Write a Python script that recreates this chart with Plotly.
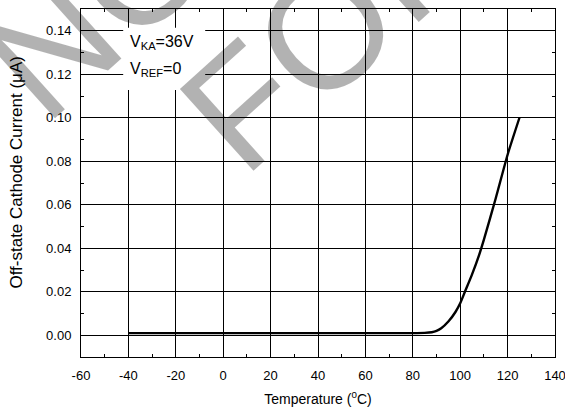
import plotly.graph_objects as go

# Data
temperature = [-40, 80, 85, 88, 90, 92, 95, 98, 100, 102, 105, 108, 110, 115, 120, 125]
current_uA = [0.001, 0.001, 0.0011, 0.0014, 0.002, 0.0032, 0.0063, 0.0107, 0.0147,
              0.020, 0.028, 0.037, 0.044, 0.063, 0.083, 0.100]

x_range = [-60, 140]
y_range = [-0.01, 0.15]
x_ticks = [-60, -40, -20, 0, 20, 40, 60, 80, 100, 120, 140]
y_ticks = [0.00, 0.02, 0.04, 0.06, 0.08, 0.10, 0.12, 0.14]

FONT = "Liberation Sans, Arial, sans-serif"

fig = go.Figure()
fig.add_trace(go.Scatter(
    x=temperature, y=current_uA, mode="lines",
    line=dict(color="black", width=2.4, shape="spline", smoothing=0.6),
    showlegend=False, hoverinfo="skip",
))

axis_common = dict(
    showgrid=True, gridcolor="black", gridwidth=1,
    showline=True, linecolor="black", linewidth=1, mirror="all",
    zeroline=False, ticks="inside", ticklen=4, tickcolor="black",
    tickfont=dict(family=FONT, size=13, color="black"),
    ticklabelstandoff=6, ticklabeloverflow="allow", automargin=False,
)

fig.update_xaxes(
    range=x_range, tickvals=x_ticks, ticktext=[str(v) for v in x_ticks],
    minor=dict(dtick=10, ticks="inside", ticklen=3, tickcolor="black", showgrid=False),
    title=dict(text="Temperature (<sup>0</sup>C)", font=dict(family=FONT, size=14, color="black"), standoff=12),
    **axis_common,
)
fig.update_yaxes(
    range=y_range, tickvals=y_ticks, ticktext=[f"{v:.2f}" for v in y_ticks],
    minor=dict(dtick=0.01, tick0=0, ticks="inside", ticklen=3, tickcolor="black", showgrid=False),
    **axis_common,
)

# Y-axis title (placed as annotation to match its off-centre position)
fig.add_annotation(xref="paper", yref="paper", x=-0.135, y=0.530, xanchor="center", yanchor="middle",
                   text="Off-state Cathode Current (μA)", showarrow=False, textangle=-90,
                   font=dict(family=FONT, size=17, color="black"))

# White label box
fig.add_shape(type="rect", xref="x", yref="y", x0=-42.2, x1=-7.6, y0=0.1128, y1=0.1414,
              fillcolor="white", line=dict(width=0), layer="above")
fig.add_annotation(xref="x", yref="y", x=-40.3, y=0.1347, xanchor="left", yanchor="middle",
                   text="V<sub>KA</sub>=36V", showarrow=False,
                   font=dict(family=FONT, size=16, color="black"))
fig.add_annotation(xref="x", yref="y", x=-40.3, y=0.1222, xanchor="left", yanchor="middle",
                   text="V<sub>REF</sub>=0", showarrow=False,
                   font=dict(family=FONT, size=16, color="black"))

# Watermark
wm_font = dict(family=FONT, size=160, color="rgba(0,0,0,0.30)")
fig.add_annotation(xref="paper", yref="paper", x=0.112, y=1.104, xanchor="center", yanchor="middle",
                   text="NOT", showarrow=False, textangle=-42, font=wm_font)
fig.add_annotation(xref="paper", yref="paper", x=0.529, y=0.954, xanchor="center", yanchor="middle",
                   text="FOR", showarrow=False, textangle=-42, font=wm_font)

fig.update_layout(
    width=565, height=410,
    margin=dict(l=81, r=10, t=9, b=53, autoexpand=False),
    paper_bgcolor="white", plot_bgcolor="white",
    showlegend=False,
)

fig.write_html("out.html", config={"displayModeBar": False},
               post_script="document.body.style.margin='0';")
